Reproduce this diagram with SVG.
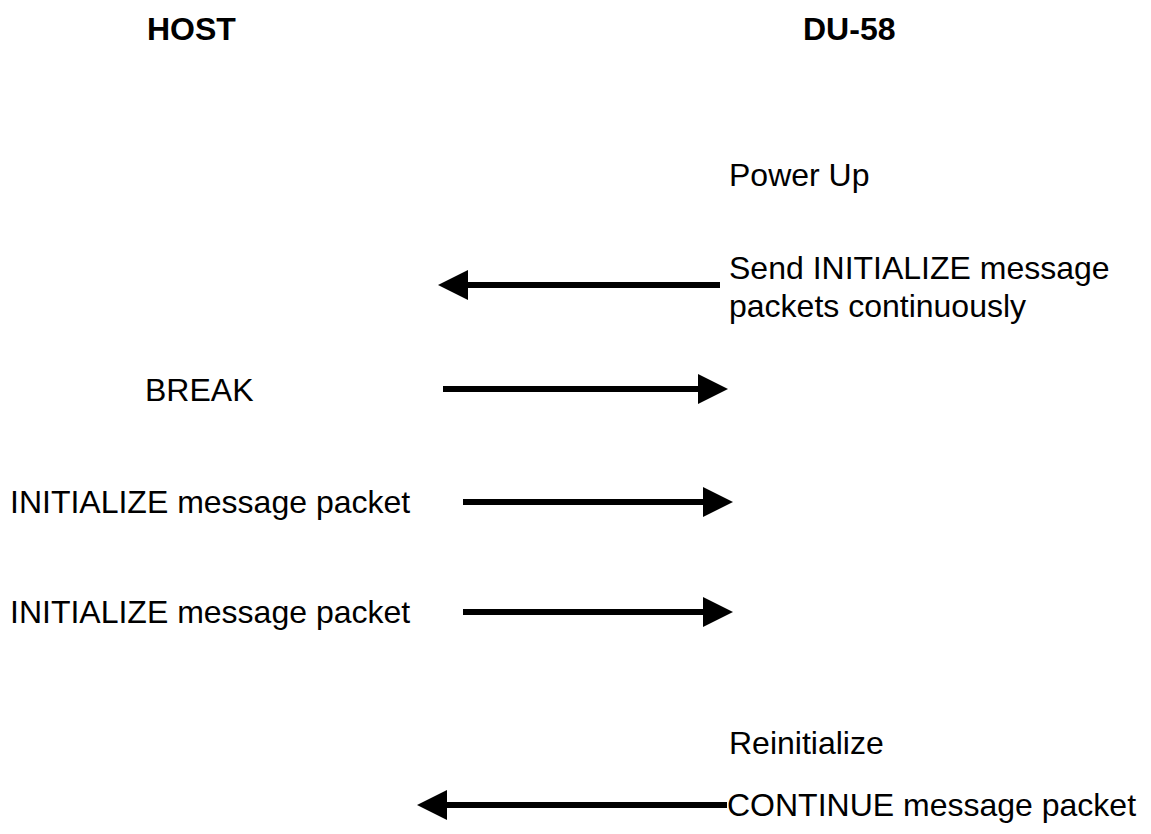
<svg xmlns="http://www.w3.org/2000/svg" width="1151" height="834" viewBox="0 0 1151 834">
  <style>
    .lbl { font-family: "Liberation Sans", Arial, sans-serif; font-size: 32px; fill: #000; }
    .head { font-weight: bold; }
    .msg { stroke: #000; stroke-width: 6; fill: none; marker-end: url(#tri); }
  </style>
  <defs>
    <marker id="tri" viewBox="0 0 30 30" refX="0" refY="15" markerWidth="30" markerHeight="30" markerUnits="userSpaceOnUse" orient="auto">
      <path d="M0,0 L30,15 L0,30 Z" fill="#000"/>
    </marker>
  </defs>
  <rect width="1151" height="834" fill="#fff"/>

  <!-- column headings -->
  <g id="host"><text class="lbl head" x="147" y="40">HOST</text></g>
  <g id="du58"><text class="lbl head" x="803" y="40">DU-58</text></g>

  <!-- device-side states -->
  <g id="power-up"><text class="lbl" x="729" y="186">Power Up</text></g>
  <g id="send-init">
    <text class="lbl" x="729" y="279">Send INITIALIZE message</text>
    <text class="lbl" x="729" y="317">packets continuously</text>
  </g>
  <g id="reinit"><text class="lbl" x="729" y="754">Reinitialize</text></g>
  <g id="continue"><text class="lbl" x="727" y="816">CONTINUE message packet</text></g>

  <!-- host-side actions -->
  <g id="break"><text class="lbl" x="145" y="401">BREAK</text></g>
  <g id="init-1"><text class="lbl" x="10" y="513">INITIALIZE message packet</text></g>
  <g id="init-2"><text class="lbl" x="10" y="623">INITIALIZE message packet</text></g>

  <!-- message flow -->
  <g id="connectors">
    <line class="msg" x1="720" y1="285" x2="468" y2="285"/>
    <line class="msg" x1="443" y1="389" x2="698" y2="389"/>
    <line class="msg" x1="463" y1="502" x2="703" y2="502"/>
    <line class="msg" x1="463" y1="612" x2="703" y2="612"/>
    <line class="msg" x1="727" y1="805" x2="447" y2="805"/>
  </g>
</svg>
